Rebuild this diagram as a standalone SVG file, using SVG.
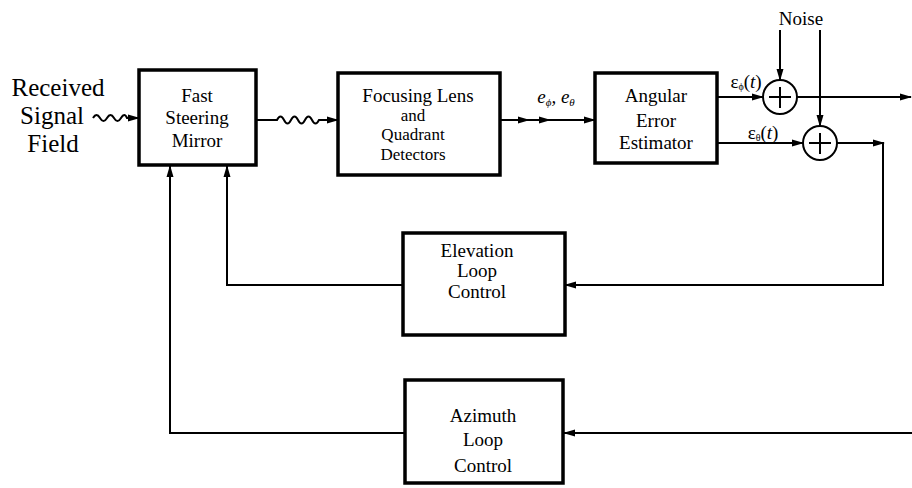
<svg xmlns="http://www.w3.org/2000/svg" width="912" height="488" viewBox="0 0 912 488">
<defs>
<marker id="arr" markerWidth="12" markerHeight="8" refX="11" refY="4" orient="auto" markerUnits="userSpaceOnUse">
<path d="M0,0.5 L12,4 L0,7.5 Z" fill="#000"/>
</marker>
<style>
.box{fill:#fff;stroke:#000;stroke-width:3.5}
.ln{fill:none;stroke:#000;stroke-width:2}
text, tspan{font-family:'Liberation Serif',serif !important;fill:#000}
text{text-anchor:middle}
.sum{fill:#fff;stroke:#000;stroke-width:2}
</style>
</defs>
<rect width="912" height="488" fill="#fff"/>

<g id="connectors">
<path class="ln" d="M93,118 q3.5,-6 7,0 t7,0 t7,0 t7,0 t6,0 L139,118" marker-end="url(#arr)"/>
<path class="ln" d="M257,120 L277,120 q3.5,-7 7,0 t7,0 t7,0 t7,0 t7,0 t7,0 L338,120" marker-end="url(#arr)"/>
<path class="ln" d="M500,120 L529,120" marker-end="url(#arr)"/>
<path class="ln" d="M527,120 L550,120" marker-end="url(#arr)"/>
<path class="ln" d="M548,120 L595,120" marker-end="url(#arr)"/>
<path class="ln" d="M717,97 L763,97" marker-end="url(#arr)"/>
<path class="ln" d="M717,143 L803,143" marker-end="url(#arr)"/>
<path class="ln" d="M780,30 L780,80" marker-end="url(#arr)"/>
<path class="ln" d="M820,30 L820,126" marker-end="url(#arr)"/>
<path class="ln" d="M797,97 L911,97" marker-end="url(#arr)"/>
<path class="ln" d="M837,143 L884,143" marker-end="url(#arr)"/>
<path class="ln" d="M883,143 L883,285 L565,285" marker-end="url(#arr)"/>
<path class="ln" d="M912,433 L564,433" marker-end="url(#arr)"/>
<path class="ln" d="M403,285 L227,285 L227,166" marker-end="url(#arr)"/>
<path class="ln" d="M405,433 L170,433 L170,166" marker-end="url(#arr)"/>
</g>

<g id="input-label">
<text style="font-family:'Liberation Serif',serif;font-size:25px" x="58" y="96">Received</text>
<text style="font-family:'Liberation Serif',serif;font-size:25px" x="52" y="124">Signal</text>
<text style="font-family:'Liberation Serif',serif;font-size:25px" x="53" y="152">Field</text>
</g>

<g id="fast-steering-mirror">
<rect class="box" x="139" y="70" width="117" height="95"/>
<text style="font-family:'Liberation Serif',serif;font-size:19px" x="197" y="102">Fast</text>
<text style="font-family:'Liberation Serif',serif;font-size:19px" x="197" y="124">Steering</text>
<text style="font-family:'Liberation Serif',serif;font-size:19px" x="197" y="147">Mirror</text>
</g>

<g id="focusing-lens">
<rect class="box" x="338" y="73" width="162" height="102"/>
<text style="font-family:'Liberation Serif',serif;font-size:19px" x="418" y="102">Focusing Lens</text>
<text style="font-family:'Liberation Serif',serif;font-size:17px" x="413" y="121">and</text>
<text style="font-family:'Liberation Serif',serif;font-size:17px" x="413" y="140">Quadrant</text>
<text style="font-family:'Liberation Serif',serif;font-size:17px" x="413" y="160">Detectors</text>
</g>

<g id="e-label">
<text style="font-family:'Liberation Serif',serif;font-size:19px;font-style:italic" x="556" y="103">e<tspan font-size="11" dy="3">ϕ</tspan><tspan dy="-3">, e</tspan><tspan font-size="11" dy="3">θ</tspan></text>
</g>

<g id="angular-error-estimator">
<rect class="box" x="595" y="73" width="122" height="90"/>
<text style="font-family:'Liberation Serif',serif;font-size:19px" x="656" y="102">Angular</text>
<text style="font-family:'Liberation Serif',serif;font-size:19px" x="656" y="127">Error</text>
<text style="font-family:'Liberation Serif',serif;font-size:19px" x="656" y="149">Estimator</text>
</g>

<g id="eps-labels">
<text style="font-family:'Liberation Serif',serif;font-size:19px" x="746" y="88">ε<tspan font-size="10" dy="2">ϕ</tspan><tspan dy="-2">(</tspan><tspan font-style="italic">t</tspan>)</text>
<text style="font-family:'Liberation Serif',serif;font-size:19px" x="763" y="139">ε<tspan font-size="10" dy="2">θ</tspan><tspan dy="-2">(</tspan><tspan font-style="italic">t</tspan>)</text>
</g>

<g id="noise">
<text style="font-family:'Liberation Serif',serif;font-size:19px" x="801" y="25">Noise</text>
</g>

<g id="sum-phi">
<circle class="sum" cx="780" cy="97" r="17"/>
<path class="ln" d="M780,87 L780,108 M769,97 L791,97" stroke-width="2.5"/>
</g>

<g id="sum-theta">
<circle class="sum" cx="820" cy="143" r="17"/>
<path class="ln" d="M820,133 L820,154 M809,143 L831,143" stroke-width="2.5"/>
</g>

<g id="elevation-loop-control">
<rect class="box" x="403" y="233" width="162" height="102"/>
<text style="font-family:'Liberation Serif',serif;font-size:19px" x="477" y="257">Elevation</text>
<text style="font-family:'Liberation Serif',serif;font-size:19px" x="477" y="277">Loop</text>
<text style="font-family:'Liberation Serif',serif;font-size:19px" x="477" y="298">Control</text>
</g>

<g id="azimuth-loop-control">
<rect class="box" x="405" y="380" width="158" height="103"/>
<text style="font-family:'Liberation Serif',serif;font-size:19px" x="483" y="422">Azimuth</text>
<text style="font-family:'Liberation Serif',serif;font-size:19px" x="483" y="446">Loop</text>
<text style="font-family:'Liberation Serif',serif;font-size:19px" x="483" y="472">Control</text>
</g>
</svg>
